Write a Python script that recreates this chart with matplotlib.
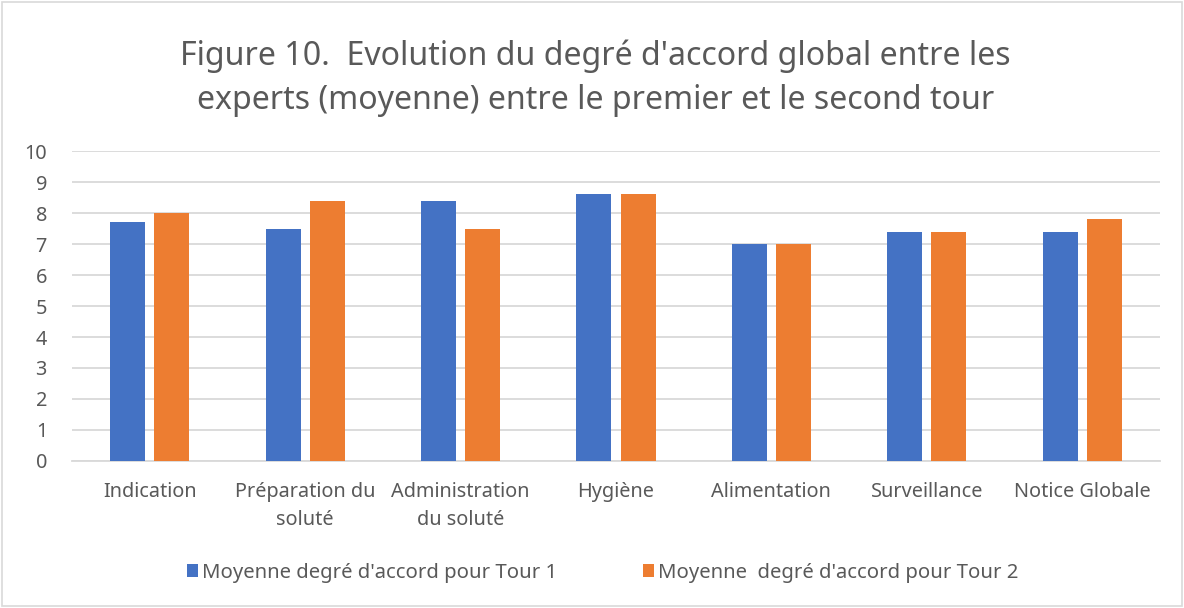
import numpy as np
import matplotlib.pyplot as plt
from matplotlib.patches import Rectangle

categories = ["Indication", "Préparation du\nsoluté", "Administration\ndu soluté",
              "Hygiène", "Alimentation", "Surveillance", "Notice Globale"]
tour1 = [7.7, 7.5, 8.4, 8.6, 7.0, 7.4, 7.4]
tour2 = [8.0, 8.4, 7.5, 8.6, 7.0, 7.4, 7.8]
labels = ["Moyenne degré d'accord pour Tour 1", "Moyenne  degré d'accord pour Tour 2"]
yticks = list(range(0, 11))

blue = '#4472C4'
orange = '#ED7D31'
text_col = '#595959'
grid_col = '#D9D9D9'

plt.rcParams['font.family'] = ['Noto Sans', 'DejaVu Sans']

fig = plt.figure(figsize=(11.84, 6.08), dpi=100)
ax = fig.add_axes([0.0608, 0.2418, 0.9189, 0.5098])

x = np.arange(len(categories))
w = 0.225
off = 0.142
ax.bar(x - off, tour1, w, color=blue, label=labels[0], zorder=3)
ax.bar(x + off, tour2, w, color=orange, label=labels[1], zorder=3)

ax.set_xlim(-0.5, len(categories) - 0.5)
ax.set_ylim(0, 10)
ax.set_yticks(yticks)
ax.set_xticks(x)
ax.set_xticklabels(categories, linespacing=1.55)
ax.yaxis.grid(True, color=grid_col, linewidth=1.3, zorder=0)
for s in ['top', 'right', 'left']:
    ax.spines[s].set_visible(False)
ax.spines['bottom'].set_color(grid_col)
ax.spines['bottom'].set_linewidth(1.3)
ax.tick_params(axis='x', length=0, labelsize=14.3, labelcolor=text_col, pad=15)
ax.tick_params(axis='y', length=0, labelsize=14.3, labelcolor=text_col, pad=18)

fig.text(0.503, 0.871, "Figure 10.  Evolution du degré d'accord global entre les\n"
         "experts (moyenne) entre le premier et le second tour",
         ha='center', va='center', fontsize=23.1, color=text_col, linespacing=1.45)

leg = fig.legend(loc='center', bbox_to_anchor=(0.509, 0.058), ncol=2, frameon=False,
                 fontsize=14.6, handlelength=0.55, handleheight=0.55, handletextpad=0.2,
                 columnspacing=4.2)
for t in leg.get_texts():
    t.set_color(text_col)

fig.patches.append(Rectangle((0.002, 0.003), 0.996, 0.994, transform=fig.transFigure,
                             fill=False, edgecolor=grid_col, linewidth=1.2))

fig.savefig('out.png', dpi=100)
